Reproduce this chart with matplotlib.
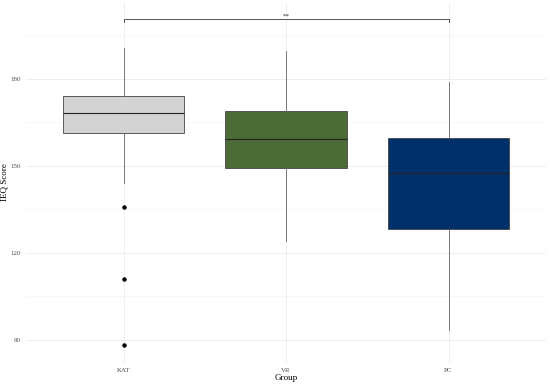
# plot.py
import matplotlib
matplotlib.use('Agg')
import matplotlib.pyplot as plt
import numpy as np

groups = ['KAT', 'VR', 'PC']
whislo = [144.0, 124.0, 93.2]
q1 = [161.3, 149.3, 128.1]
med = [168.3, 159.3, 147.5]
q3 = [174.1, 169.0, 159.7]
whishi = [190.7, 189.7, 178.9]
outliers = [[135.9, 111.0, 88.0], [], []]
colors = ['#d3d3d3', '#4d6b36', '#00306a']

# significance bracket
sig_pair = (0, 2)
sig_label = '**'
sig_y = 200.6

plt.rcParams['font.family'] = ['Liberation Serif', 'DejaVu Serif']

stats = []
for i, g in enumerate(groups):
    stats.append(dict(label=g, whislo=whislo[i], q1=q1[i], med=med[i],
                      q3=q3[i], whishi=whishi[i], fliers=outliers[i]))

fig = plt.figure(figsize=(5.5, 3.86), dpi=100)
ax = fig.add_axes([26/550, 1 - 362/386, 520/550, 360/386])

pos = np.arange(1, len(groups) + 1)
bp = ax.bxp(stats, positions=pos, widths=0.75, patch_artist=True,
            showcaps=False,
            boxprops=dict(edgecolor='#444444', linewidth=0.6),
            medianprops=dict(color='#222222', linewidth=0.8),
            whiskerprops=dict(color='#666666', linewidth=0.6),
            flierprops=dict(marker='o', markerfacecolor='black',
                            markeredgecolor='black', markersize=2.2))
for patch, c in zip(bp['boxes'], colors):
    patch.set_facecolor(c)

# bracket
x0, x1 = pos[sig_pair[0]], pos[sig_pair[1]]
ax.plot([x0, x0, x1, x1], [sig_y - 0.9, sig_y, sig_y, sig_y - 0.9],
        color='#555555', linewidth=0.7)
ax.text((x0 + x1) / 2, sig_y + 0.4, sig_label, ha='center', va='bottom',
        fontsize=5, color='#333333')

ax.set_xlim(0.4, 3.6)
ax.set_ylim(82.3, 206.6)
ax.set_yticks([90, 120, 150, 180])
ax.set_yticks([105, 135, 165, 195], minor=True)
ax.set_xticks(pos)
ax.set_xticklabels(groups)
ax.grid(True, which='major', color='#ebebeb', linewidth=0.6)
ax.grid(True, which='minor', axis='y', color='#f4f4f4', linewidth=0.4)
ax.set_axisbelow(True)
for s in ax.spines.values():
    s.set_visible(False)
ax.tick_params(which='both', length=0, labelsize=5, labelcolor='#4d4d4d', pad=4)
ax.set_xlabel('Group', fontsize=6.5, labelpad=1)
ax.set_ylabel('IEQ Score', fontsize=6.5)
ax.yaxis.set_label_coords(-0.033, 0.5)

fig.savefig('out.png', dpi=100)
